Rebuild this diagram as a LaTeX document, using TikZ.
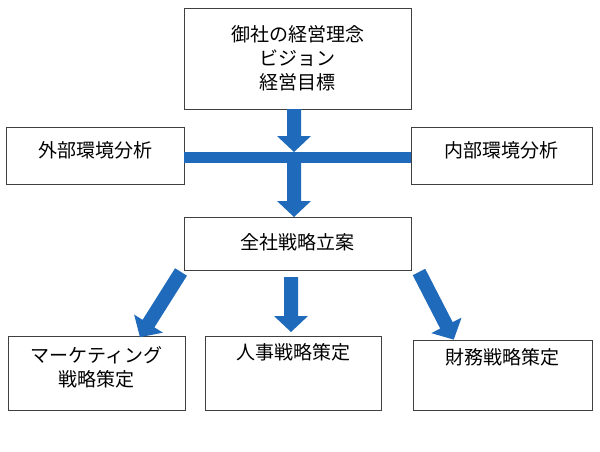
\documentclass[tikz,border=0pt]{standalone}
\usepackage{fontspec}
\setmainfont{Noto Sans CJK JP}
\begin{document}
\begin{tikzpicture}[x=1pt,y=1pt,
  box/.style={draw=black!75,line width=0.8pt,fill=white},
  txt/.style={font=\fontsize{19}{24}\selectfont,align=center,inner sep=0pt},
  blk/.style={fill=arrowblue}]
\definecolor{arrowblue}{RGB}{31,106,186}
\newcommand\barr[4]{\begin{scope}[shift={(#1,#2)},rotate=#3]
 \fill[blk] (0,-7)--(#4-16,-7)--(#4-16,-17)--(#4,0)--(#4-16,17)--(#4-16,7)--(0,7)--cycle;\end{scope}}
\useasboundingbox (0,0) rectangle (600,-451);
\fill[white] (0,0) rectangle (600,-451);
% boxes
\draw[box] (184,-8) rectangle (411,-109);
\node[txt] (top) at (297.5,-58) {御社の経営理念\\ビジョン\\経営目標};
\draw[box] (6,-127) rectangle (184,-184);
\node[txt] (ext) at (95,-150) {外部環境分析};
\draw[box] (411,-127) rectangle (592,-184);
\node[txt] (int) at (501,-150) {内部環境分析};
\draw[box] (184,-217) rectangle (411,-270);
\node[txt] (corp) at (297.5,-242) {全社戦略立案};
\draw[box] (8,-336) rectangle (185,-410);
\node[txt] (mkt) at (96.5,-367) {マーケティング\\戦略策定};
\draw[box] (205,-336) rectangle (381,-410);
\node[txt] (hr) at (293,-352) {人事戦略策定};
\draw[box] (413,-340) rectangle (592,-410);
\node[txt] (fin) at (502.5,-357) {財務戦略策定};
% bar and arrows
\fill[blk] (184,-152) rectangle (411,-163);
\barr{294}{-109}{-90}{43}
\barr{294}{-163}{-90}{54}
\barr{291}{-277}{-90}{55}
\barr{181}{-272}{-122.2}{77}
\barr{419}{-272}{-62.8}{76}
\end{tikzpicture}
\end{document}
